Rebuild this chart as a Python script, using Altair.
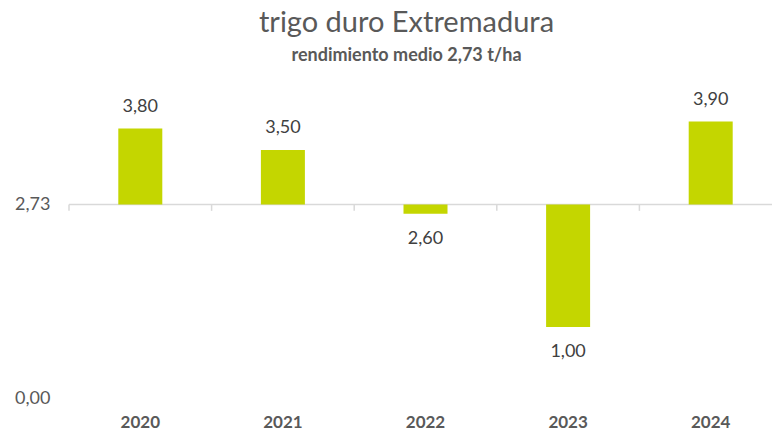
import altair as alt
import pandas as pd

# Durum wheat yield per year in Extremadura (t/ha) and the average yield
years = ["2020", "2021", "2022", "2023", "2024"]
yields = [3.80, 3.50, 2.60, 1.00, 3.90]
average = 2.73

df = pd.DataFrame({"year": years, "value": yields})
df["base"] = average
df["label"] = [f"{v:.2f}".replace(".", ",") for v in yields]
df["above"] = df["value"] >= average

BAR = "#C4D600"
TEXT = "#595959"
FONT = "Lato"

x_enc = alt.X("year:O", sort=years,
              scale=alt.Scale(range=[0, 713], paddingInner=0, paddingOuter=0),
              axis=alt.Axis(title=None, labelAngle=0, domain=False, ticks=False,
                            labelFont=FONT, labelFontSize=17, labelFontWeight="bold",
                            labelColor=TEXT, labelPadding=16))
y_scale = alt.Scale(domain=[0, 4.5], nice=False, zero=True)

base = alt.Chart(df)

bars = base.mark_bar(size=44, color=BAR).encode(
    x=x_enc,
    y=alt.Y("value:Q", scale=y_scale,
            axis=alt.Axis(title=None, values=[0, average], grid=False, domain=False,
                          ticks=False, labelFont=FONT, labelFontSize=18,
                          labelColor=TEXT, labelPadding=19,
                          labelExpr="replace(format(datum.value, '.2f'), '.', ',')")),
    y2="base:Q",
)

# horizontal line at the average yield, with small ticks on category borders
avg_line = alt.Chart(pd.DataFrame({"avg": [average]})).mark_rule(
    color="#D9D9D9", strokeWidth=1.5
).encode(y=alt.Y("avg:Q", scale=y_scale), x=alt.value(0), x2=alt.value(713))

border_ticks = base.mark_rule(color="#D9D9D9", strokeWidth=1.5).encode(
    x=alt.X("year:O", sort=years, bandPosition=0),
    y=alt.Y("base:Q", scale=y_scale),
    y2=alt.datum(average - 0.09),
)

labels_up = base.transform_filter("datum.above").mark_text(
    font=FONT, fontSize=18, color="#404040", baseline="bottom", dy=-13
).encode(x=alt.X("year:O", sort=years), y=alt.Y("value:Q", scale=y_scale), text="label:N")

labels_down = base.transform_filter("!datum.above").mark_text(
    font=FONT, fontSize=18, color="#404040", baseline="top", dy=16
).encode(x=alt.X("year:O", sort=years), y=alt.Y("value:Q", scale=y_scale), text="label:N")

chart = alt.layer(avg_line, bars, border_ticks, labels_up, labels_down).properties(
    width=703,
    height=319,
    background="white",
    autosize=alt.AutoSizeParams(type="none"),
    padding={"left": 69, "top": 79, "right": 0, "bottom": 36},
    title=alt.TitleParams(
        text="trigo duro Extremadura",
        subtitle="rendimiento medio 2,73 t/ha",
        anchor="middle", dx=-14, offset=14,
        font=FONT, fontSize=29, fontWeight="normal", color=TEXT,
        subtitleFont=FONT, subtitleFontSize=18, subtitleFontWeight="bold",
        subtitleColor=TEXT, subtitlePadding=9,
    ),
).configure_view(stroke=None)

chart.save("out.html", embed_options={"renderer": "svg", "actions": False})
